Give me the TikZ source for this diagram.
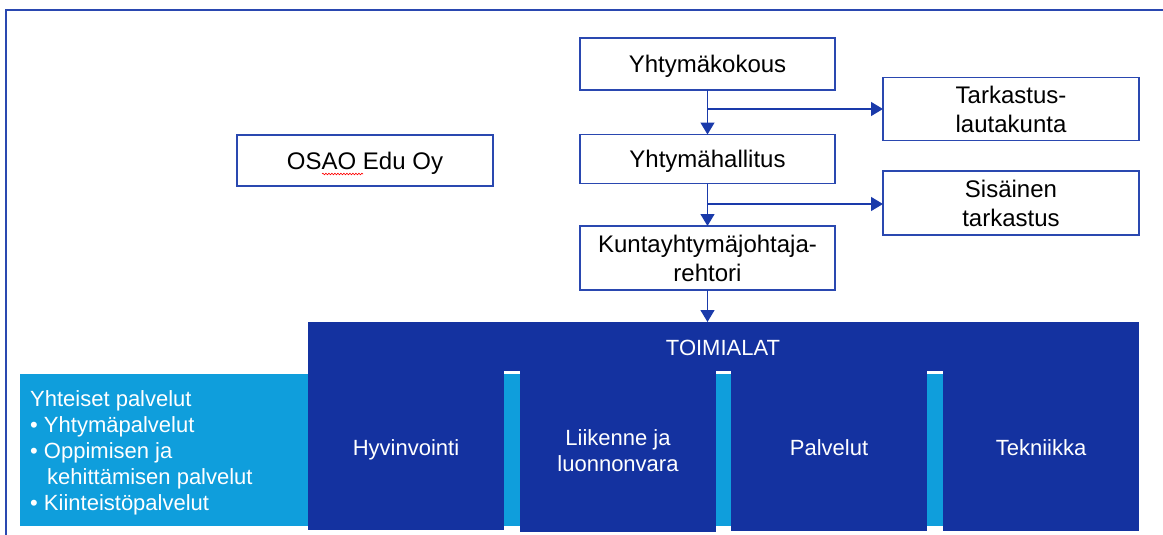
\documentclass[tikz,border=0pt]{standalone}
\usepackage{fontspec}
\setmainfont{Liberation Sans}
\usetikzlibrary{arrows.meta,decorations.pathmorphing}
\definecolor{dblue}{HTML}{1432A0}
\definecolor{lblue}{HTML}{0F9EDC}
\definecolor{bline}{HTML}{2A48B0}
\definecolor{aline}{HTML}{1A3AAA}
\begin{document}
\begin{tikzpicture}[x=1pt,y=-1pt,
  box/.style={draw=bline,line width=1.6pt,fill=white,inner sep=0pt,outer sep=0pt,
    align=center,font=\fontsize{24}{29}\selectfont,text=black},
  onel/.style={text height=17pt,text depth=0pt},
  conn/.style={draw=aline,line width=1.4pt},
  tip/.style={-{Triangle[length=12pt,width=14pt]}},
  col/.style={fill=dblue,inner sep=0pt,outer sep=0pt,minimum width=196pt,
    align=center,text=white,font=\fontsize{22}{26}\selectfont,anchor=north west},
  wtext/.style={text=white,font=\fontsize{22}{26}\selectfont,inner sep=0pt}
]
\useasboundingbox (0,0) rectangle (1163,535);
% outer frame
\draw[bline,line width=2pt] (6,535) -- (6,10) -- (1163,10);

% upper boxes
\node[box,onel,minimum width=255pt,minimum height=52pt] (kok) at (707.5,64) {Yhtymäkokous};
\node[box,minimum width=256pt,minimum height=63pt] (tark) at (1011,109) {Tarkastus-\\lautakunta};
\node[box,onel,minimum width=255pt,minimum height=49pt] (hall) at (707.5,159) {Yhtymähallitus};
\node[box,minimum width=256pt,minimum height=64pt] (sis) at (1011,203) {Sisäinen\\tarkastus};
\node[box,minimum width=255pt,minimum height=64pt] (kuj) at (707.5,258) {Kuntayhtymäjohtaja-\\rehtori};
\node[box,onel,minimum width=256pt,minimum height=51pt] (osao) at (365,160.5) {OSAO Edu Oy};
\draw[red,line width=0.6pt,decoration={snake,amplitude=0.8pt,segment length=3pt},decorate] (322,174) -- (363,174);

% light blue band
\fill[lblue] (20,374) rectangle (1139,526);

% TOIMIALAT band and columns
\node[fill=dblue,inner sep=0pt,outer sep=0pt,minimum width=831pt,minimum height=49pt,anchor=north west] (toim) at (308,322) {};
\node[wtext] (toimt) at (723,348) {TOIMIALAT};
\node[col,text height=16pt,text depth=6pt,minimum height=160pt] (hyv) at (308,370) {Hyvinvointi};
\node[col,minimum height=162pt] (lii) at (520,370) {Liikenne ja\\luonnonvara};
\node[col,text height=16pt,text depth=6pt,minimum height=161pt] (pal) at (731,370) {Palvelut};
\node[col,text height=16pt,text depth=6pt,minimum height=161pt] (tek) at (943,370) {Tekniikka};

% Yhteiset palvelut
\node[wtext,align=left,anchor=north west] (yht) at (30,390)
  {Yhteiset palvelut\\
   • Yhtymäpalvelut\\
   • Oppimisen ja\\
   \hspace*{17pt}kehittämisen palvelut\\
   • Kiinteistöpalvelut};

% connectors
\coordinate (b1) at (707.5,109);
\coordinate (b2) at (707.5,204);
\draw[conn,tip] (kok.south) -- (hall.north);
\draw[conn,tip] (b1) -- (b1 -| tark.west);
\draw[conn,tip] (hall.south) -- (kuj.north);
\draw[conn,tip] (b2) -- (b2 -| sis.west);
\draw[conn,tip] (kuj.south) -- (kuj.south |- toim.north);
\end{tikzpicture}
\end{document}
